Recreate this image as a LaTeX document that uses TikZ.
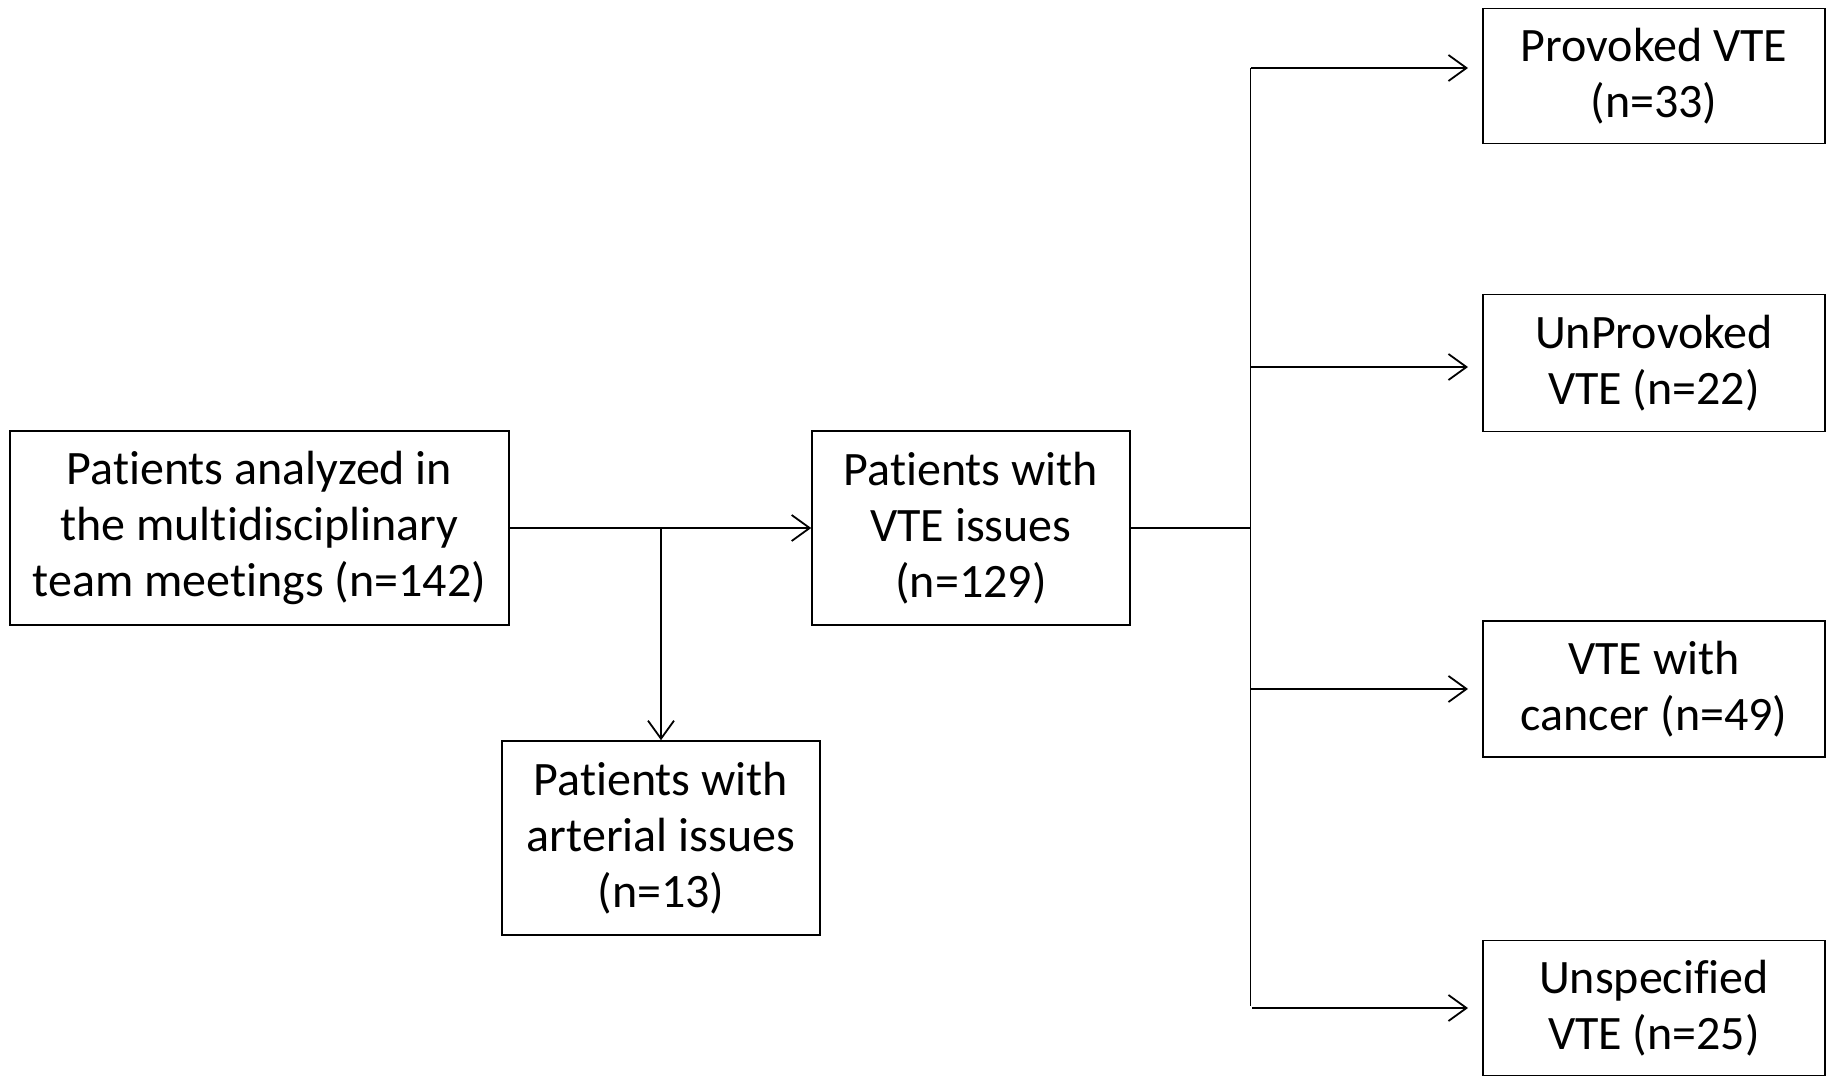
\documentclass[tikz,border=0pt]{standalone}
\usepackage{fontspec}
\setmainfont[Ligatures=NoCommon]{Carlito}
\usetikzlibrary{arrows.meta}
\begin{document}
\begin{tikzpicture}[x=1pt,y=-1pt,
  box/.style={draw=black,line width=1.6pt,align=center,inner sep=0pt,
    font=\fontsize{48}{56}\selectfont,text=black},
  conn/.style={draw=black,line width=1.8pt},
  arr/.style={conn,-{Straight Barb[length=18pt,width=26pt,line width=1.8pt]}}]
\useasboundingbox (0,0) rectangle (1834,1076);
\node[box,minimum width=499pt,minimum height=194pt] (A) at (259.5,528)
  {Patients analyzed in\\the multidisciplinary\\team meetings (n=142)};
\node[box,minimum width=318pt,minimum height=194pt] (B) at (971,528)
  {Patients with\\VTE issues\\(n=129)};
\node[box,minimum width=318pt,minimum height=194pt] (C) at (661,838)
  {Patients with\\arterial issues\\(n=13)};
\node[box,minimum width=342pt,minimum height=135pt] (P) at (1654,76)
  {Provoked VTE\\(n=33)};
\node[box,minimum width=342pt,minimum height=137pt] (U) at (1654,363)
  {UnProvoked\\VTE (n=22)};
\node[box,minimum width=342pt,minimum height=136pt] (K) at (1654,689)
  {VTE with\\cancer (n=49)};
\node[box,minimum width=342pt,minimum height=135pt] (S) at (1654,1008)
  {Unspecified\\VTE (n=25)};
\coordinate (J1) at (661,528);
\coordinate (R) at (1250.5,528);
\coordinate (Rt) at (1250.5,68);
\coordinate (Rb) at (1250.5,1006);
\coordinate (Ru) at (1250.5,367);
\coordinate (Rk) at (1250.5,689);
\coordinate (Rs) at (1252,1008);
\coordinate (Tx) at (1468,0);
\draw[arr] (A.east) -- (B.west);
\draw[arr] (J1) -- (C.north);
\draw[conn] (B.east) -- (R);
\draw[conn] (Rt) -- (Rb);
\draw[arr] (Rt) -- (Tx |- Rt);
\draw[arr] (Ru) -- (Tx |- Ru);
\draw[arr] (Rk) -- (Tx |- Rk);
\draw[arr] (Rs) -- (Tx |- Rs);
\end{tikzpicture}
\end{document}
